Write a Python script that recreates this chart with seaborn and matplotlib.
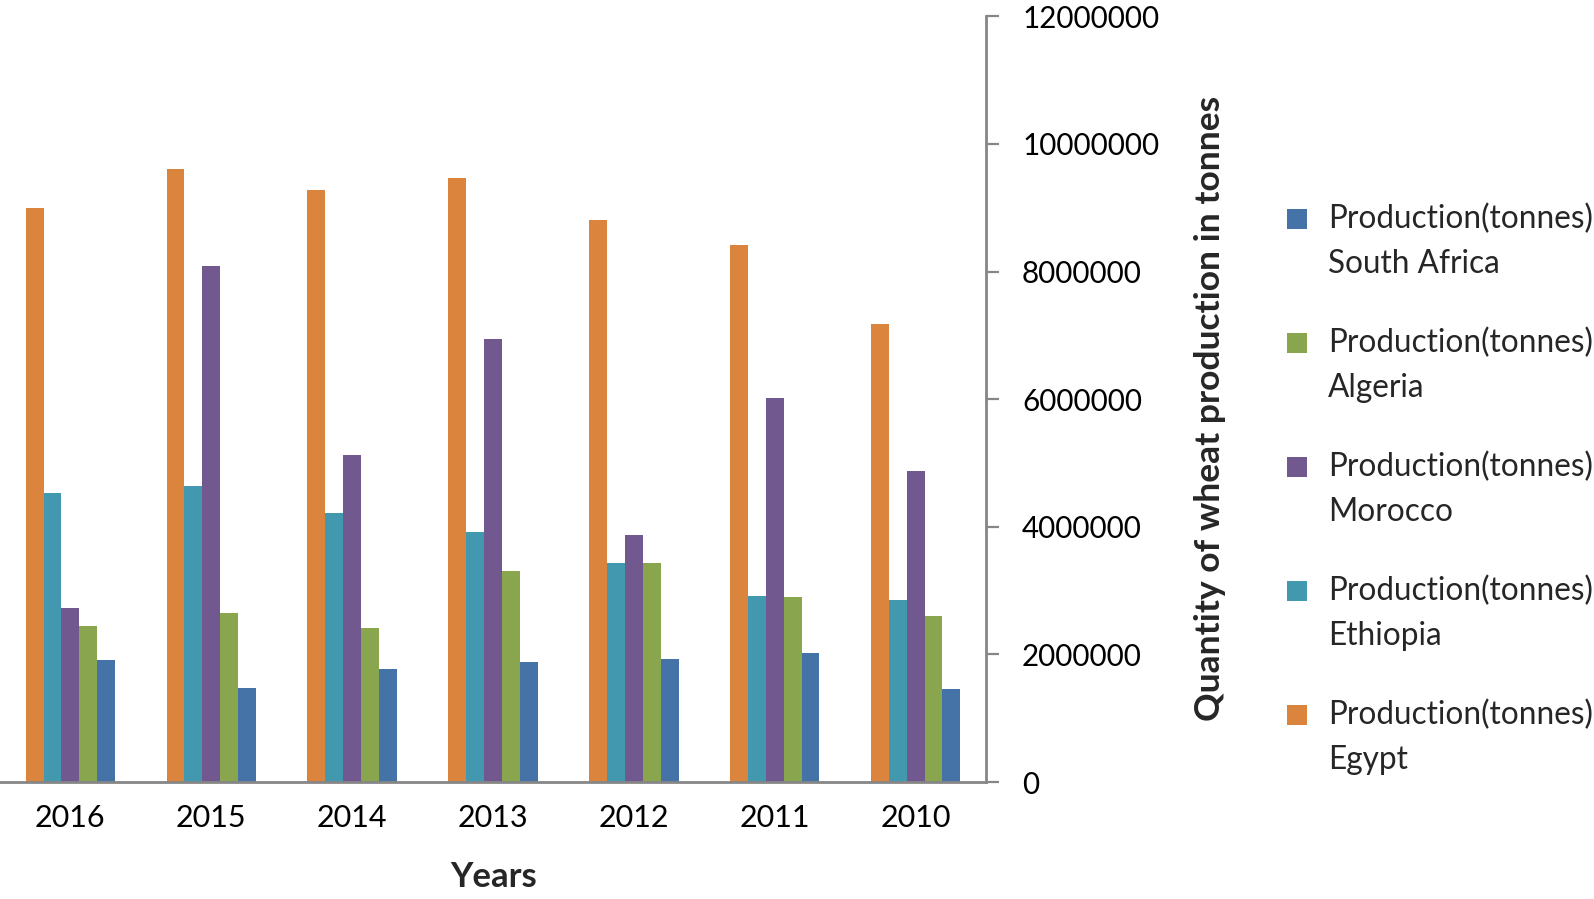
import pandas as pd
import matplotlib
matplotlib.use("Agg")
import matplotlib.pyplot as plt
import matplotlib.ticker as mticker
from matplotlib.patches import Rectangle
import seaborn as sns

years = ["2016", "2015", "2014", "2013", "2012", "2011", "2010"]
countries = ["Egypt", "Ethiopia", "Morocco", "Algeria", "South Africa"]
egypt = [9000000, 9610000, 9280000, 9470000, 8800000, 8410000, 7170000]
ethiopia = [4530000, 4640000, 4220000, 3920000, 3430000, 2920000, 2850000]
morocco = [2720000, 8080000, 5120000, 6950000, 3870000, 6020000, 4880000]
algeria = [2440000, 2650000, 2420000, 3300000, 3430000, 2900000, 2600000]
south_africa = [1910000, 1470000, 1770000, 1880000, 1930000, 2020000, 1450000]
colors = ["#DB843D", "#4198AF", "#71588F", "#89A54E", "#4572A7"]

series = dict(zip(countries, [egypt, ethiopia, morocco, algeria, south_africa]))
rows = []
for country, vals in series.items():
    for yr, v in zip(years, vals):
        rows.append({"year": yr, "country": country, "production": v})
df = pd.DataFrame(rows)

sns.set_theme(style="white")
plt.rcParams['font.family'] = ['Lato', 'DejaVu Sans']

W, H = 1594, 899
fig = plt.figure(figsize=(W / 100, H / 100), dpi=100)
ax = fig.add_axes([0, 117 / H, 986 / W, (782 - 16.3) / H])

sns.barplot(data=df, x="year", y="production", hue="country",
            order=years, hue_order=countries, palette=colors,
            width=0.635, saturation=1, ax=ax, legend=False,
            edgecolor="none")

ax.set_ylim(0, 12000000)
ax.set_xlim(-0.5, len(years) - 0.5)
ax.set_yticks(range(0, 12000001, 2000000))
ax.yaxis.set_major_formatter(mticker.FuncFormatter(lambda v, p: f"{int(v)}"))
ax.yaxis.tick_right()

for s in ["top", "left"]:
    ax.spines[s].set_visible(False)
for s in ["bottom", "right"]:
    ax.spines[s].set_color("#868686")
    ax.spines[s].set_linewidth(2)

ax.tick_params(axis="x", length=0, pad=16, labelsize=22, colors="black")
ax.tick_params(axis="y", which="major", right=True, left=False, length=9,
               width=1.6, color="#868686", pad=17, labelsize=21.3,
               labelcolor="black")

ax.set_xlabel("Years", fontsize=25, fontweight="bold")
ax.xaxis.set_label_coords(494 / W, 1 - 877 / H, transform=fig.transFigure)
ax.xaxis.label.set_va("center")
ax.set_ylabel("Quantity of wheat production in tonnes", fontsize=25.5,
              fontweight="bold")
ax.yaxis.set_label_position("right")
ax.yaxis.set_label_coords(1210 / W, 1 - 408 / H, transform=fig.transFigure)
ax.yaxis.label.set_va("center")
ax.yaxis.label.set_rotation(90)

# legend, drawn in Excel order (last series first)
entry_y = [219, 343, 467, 591, 715]
for (country, color), yy in zip(reversed(list(zip(countries, colors))), entry_y):
    fig.add_artist(Rectangle(((1297 - 10) / W, 1 - (yy + 10) / H), 20 / W, 20 / H,
                             facecolor=color, edgecolor="none",
                             transform=fig.transFigure))
    fig.text(1328 / W, 1 - (yy + 22.5) / H, f"Production(tonnes)\n{country}",
             fontsize=22.7, va="center", ha="left", linespacing=1.6)

fig.savefig("out.png", dpi=100)
